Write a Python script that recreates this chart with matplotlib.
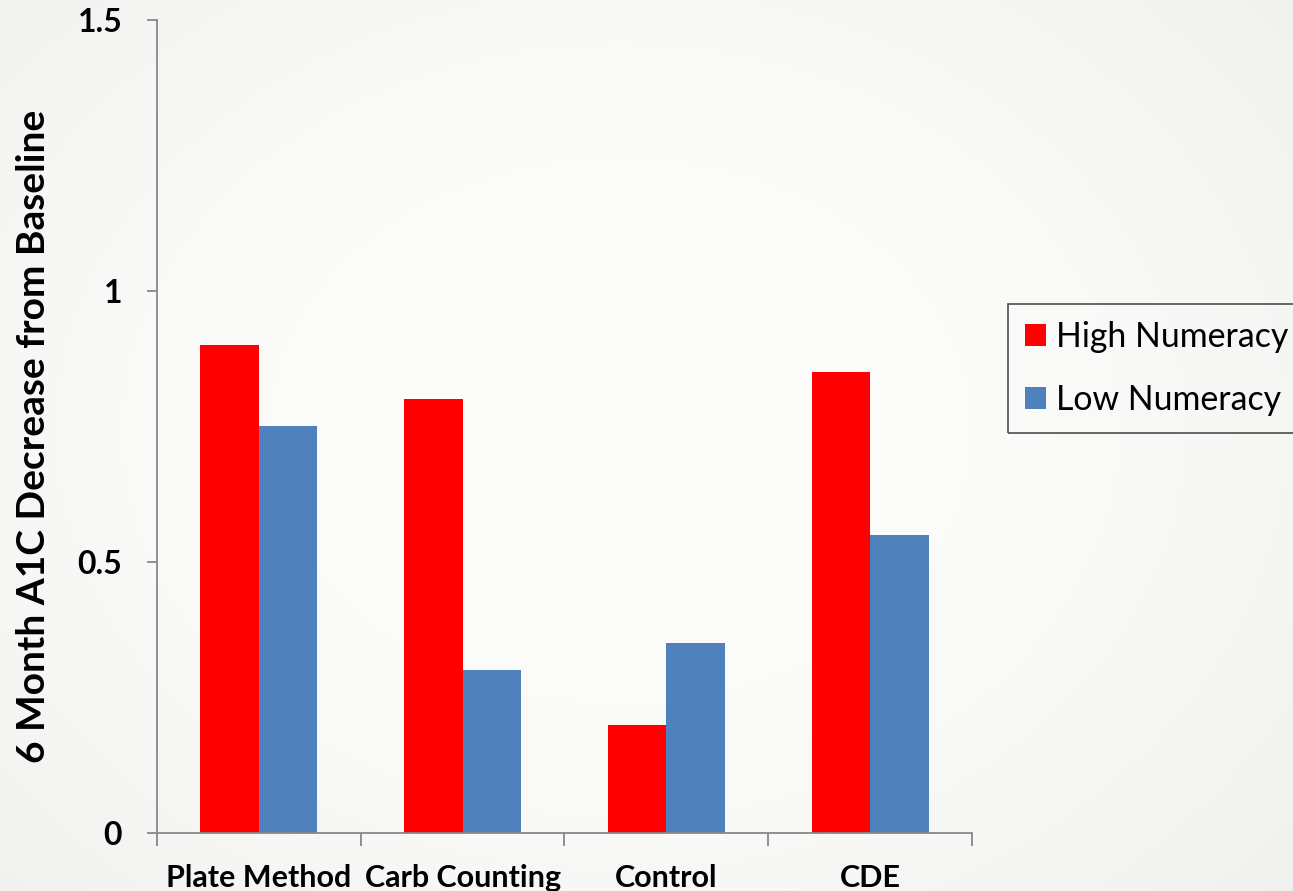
import numpy as np
import matplotlib.pyplot as plt

categories = ["Plate Method", "Carb Counting", "Control", "CDE"]
high_numeracy = [0.90, 0.80, 0.20, 0.85]
low_numeracy = [0.75, 0.30, 0.35, 0.55]
y_ticks = [0, 0.5, 1, 1.5]
y_tick_labels = ["0", "0.5", "1", "1.5"]

plt.rcParams['font.family'] = ['Lato', 'DejaVu Sans']

fig = plt.figure(figsize=(12.93, 8.91), dpi=100)

# soft radial background
bg = fig.add_axes([0, 0, 1, 1], zorder=-10)
yy, xx = np.mgrid[0:891, 0:1293]
r = np.sqrt(((xx - 620) / 900.0) ** 2 + ((yy - 430) / 700.0) ** 2)
shade = np.clip(0.992 - 0.05 * r ** 2, 0.92, 1.0)
img = np.dstack([shade, shade, shade * 0.995])
bg.imshow(img, aspect='auto', extent=[0, 1, 0, 1])
bg.axis('off')

ax = fig.add_axes([0.1214, 0.0651, 0.6303, 0.9125])
ax.patch.set_alpha(0)

x = np.arange(len(categories))
w = 0.287
ax.bar(x - w / 2, high_numeracy, w, color='#ff0000', label='High Numeracy')
ax.bar(x + w / 2, low_numeracy, w, color='#4f81bd', label='Low Numeracy')

ax.set_xlim(-0.5, len(categories) - 0.5)
ax.set_ylim(0, 1.5)
ax.set_yticks(y_ticks)
ax.set_yticklabels(y_tick_labels, fontsize=23, fontweight='bold')
ax.set_xticks(x)
ax.set_xticklabels(categories, fontsize=22, fontweight='bold')
ax.set_xticks(np.arange(-0.5, len(categories)), minor=True)
ax.tick_params(axis='x', which='major', length=0, pad=22)
ax.tick_params(axis='x', which='minor', length=9, width=1.3, color='#888888')
ax.tick_params(axis='y', length=7, width=1.3, color='#888888', pad=18)

for s in ['top', 'right']:
    ax.spines[s].set_visible(False)
for s in ['left', 'bottom']:
    ax.spines[s].set_color('#888888')
    ax.spines[s].set_linewidth(1.3)

ax.set_ylabel("6 Month A1C Decrease from Baseline", fontsize=28, fontweight='bold')
ax.yaxis.set_label_coords(-0.130, 0.488)

leg = fig.legend(loc='upper left', bbox_to_anchor=(1008 / 1293, 1 - 304 / 891),
                 fontsize=24.4, frameon=True, fancybox=False, handlelength=0.62,
                 handleheight=0.6, handletextpad=0.3, labelspacing=0.92,
                 borderpad=0.5, borderaxespad=0)
leg.get_frame().set_edgecolor('#222222')
leg.get_frame().set_linewidth(1.2)
leg.get_frame().set_facecolor('none')

fig.savefig('out.png', dpi=100)
